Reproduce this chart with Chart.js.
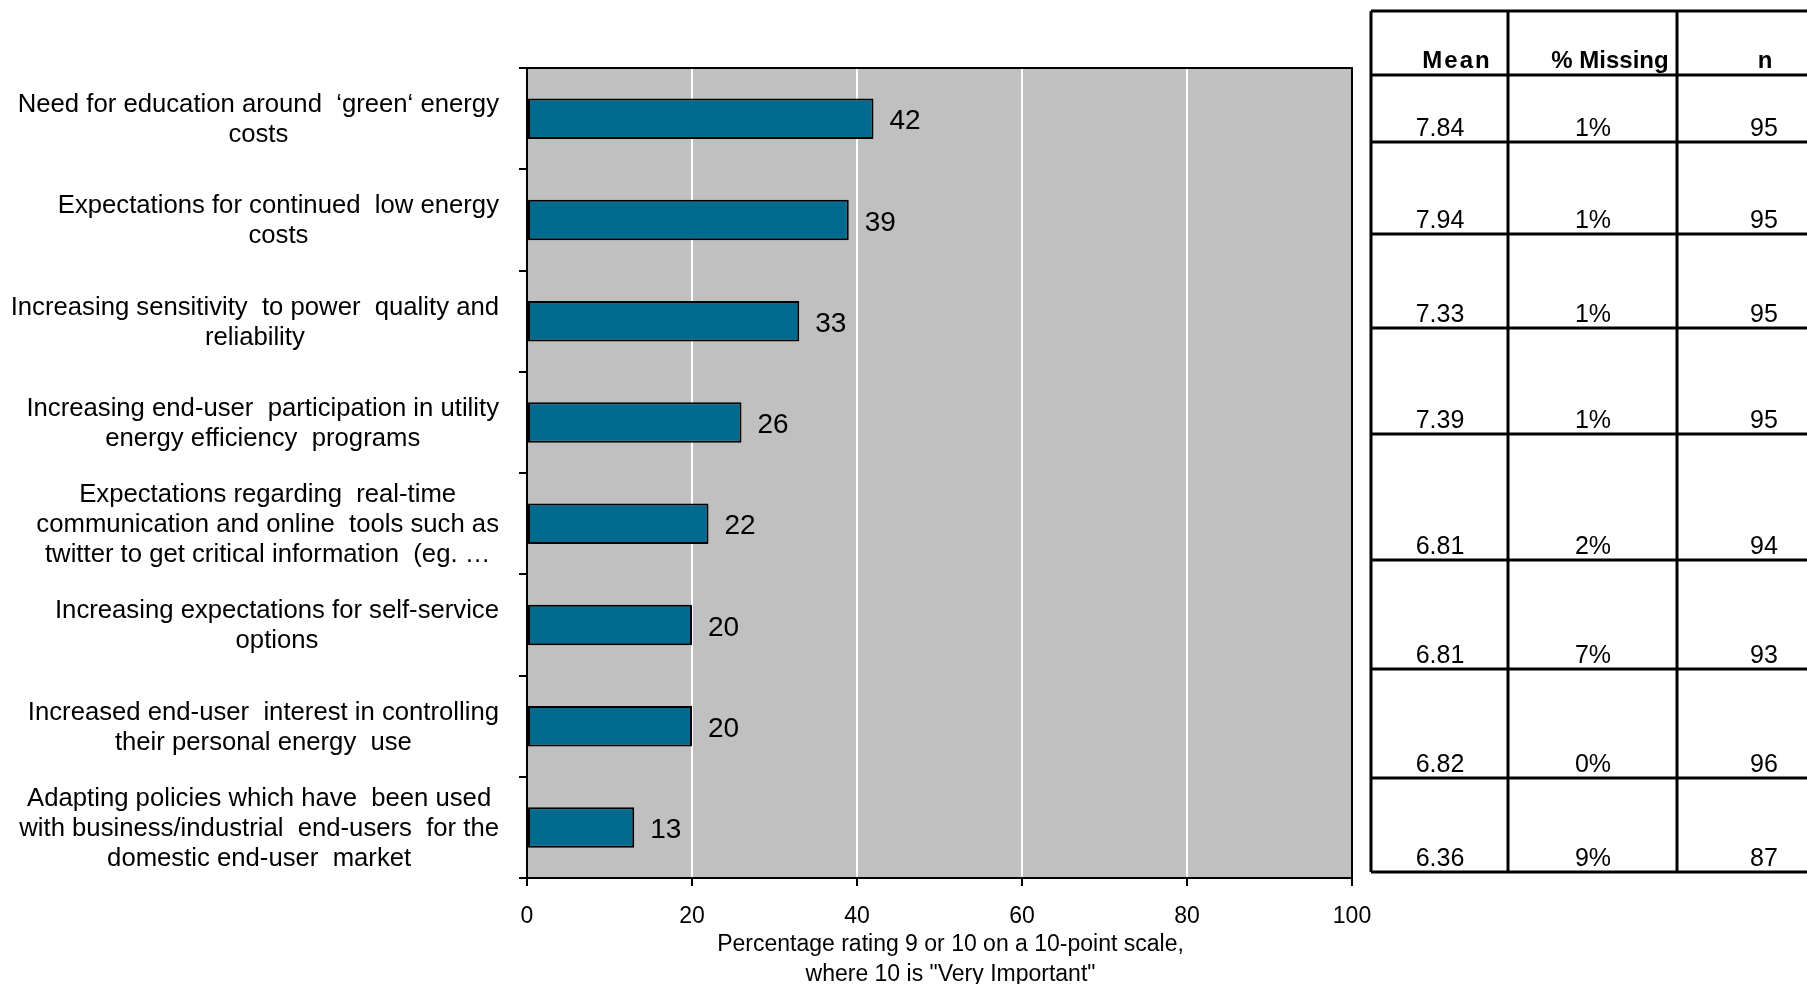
<!DOCTYPE html>
<html>
<head>
<meta charset="utf-8">
<script src="https://cdn.jsdelivr.net/npm/chart.js@4.4.1/dist/chart.umd.min.js"></script>
<style>
html,body{margin:0;padding:0;background:#fff;}
canvas{display:block;}
</style>
</head>
<body>
<canvas id="c" width="1807" height="984"></canvas>
<script>
// ---- data ----
const categories = [
  ["Need for education around  \u2018green\u2018 energy", "costs"],
  ["Expectations for continued  low energy", "costs"],
  ["Increasing sensitivity  to power  quality and", "reliability"],
  ["Increasing end-user  participation in utility", "energy efficiency  programs"],
  ["Expectations regarding  real-time", "communication and online  tools such as", "twitter to get critical information  (eg. \u2026"],
  ["Increasing expectations for self-service", "options"],
  ["Increased end-user  interest in controlling", "their personal energy  use"],
  ["Adapting policies which have  been used", "with business/industrial  end-users  for the", "domestic end-user  market"]
];
const values = [42, 39, 33, 26, 22, 20, 20, 13];
const meanScores = ["7.84", "7.94", "7.33", "7.39", "6.81", "6.81", "6.82", "6.36"];
const pctMissing = ["1%", "1%", "1%", "1%", "2%", "7%", "0%", "9%"];
const nCounts = ["95", "95", "95", "95", "94", "93", "96", "87"];
const xTicks = [0, 20, 40, 60, 80, 100];
const tableHeaders = ["Mean", "% Missing", "n"];
const axisTitle = ["Percentage rating 9 or 10 on a 10-point scale,", "where 10 is \"Very Important\""];

// ---- layout (positions / styles) ----
const FONT = "'Liberation Sans', Arial, sans-serif";
const table = {
  top: 11,
  colLines: [1371, 1508, 1677],
  rowLines: [75, 142, 234, 328, 434, 560, 669, 778, 872],
  headerX: [1457, 1610, 1765],
  headerSpacing: ['2px', '0px', '0px'],
  valueX: [1440, 1593, 1764]
};

const extras = {
  id: 'extras',
  beforeDraw(chart) {
    const {ctx, chartArea: a} = chart;
    ctx.save();
    ctx.fillStyle = '#C0C0C0';
    ctx.fillRect(a.left, a.top, a.right - a.left, a.bottom - a.top);
    ctx.restore();
  },
  afterDatasetsDraw(chart) {
    const {ctx, chartArea: a} = chart;
    const meta = chart.getDatasetMeta(0);
    const yScale = chart.scales.y;
    ctx.save();
    // plot border
    ctx.strokeStyle = '#000';
    ctx.lineWidth = 2;
    ctx.strokeRect(a.left, a.top, a.right - a.left, a.bottom - a.top);

    // value labels
    ctx.fillStyle = '#000';
    ctx.font = '28px ' + FONT;
    ctx.textAlign = 'left';
    ctx.textBaseline = 'middle';
    meta.data.forEach((bar, i) => {
      ctx.fillText(String(values[i]), bar.x + 16, bar.y + 3);
    });

    // category labels (block right-aligned, lines centred)
    ctx.font = '25.7px ' + FONT;
    ctx.textAlign = 'center';
    const rightEdge = a.left - 28;
    categories.forEach((lines, i) => {
      const cy = yScale.getPixelForValue(i) + 1.5;
      const bw = Math.max(...lines.map(l => ctx.measureText(l).width));
      const cx = rightEdge - bw / 2;
      lines.forEach((l, k) => {
        ctx.fillText(l, cx, cy - (lines.length - 1) * 15 + k * 30);
      });
    });

    // axis title
    ctx.font = '23px ' + FONT;
    const tx = (a.left + a.right) / 2 + 11;
    axisTitle.forEach((l, k) => ctx.fillText(l, tx, 945 + k * 30));

    // table
    ctx.lineWidth = 3;
    ctx.beginPath();
    ctx.moveTo(table.colLines[0], table.top);
    ctx.lineTo(1807, table.top);
    table.rowLines.forEach(y => { ctx.moveTo(table.colLines[0], y); ctx.lineTo(1807, y); });
    table.colLines.forEach(x => { ctx.moveTo(x, table.top); ctx.lineTo(x, table.rowLines[table.rowLines.length - 1]); });
    ctx.stroke();

    ctx.textBaseline = 'alphabetic';
    ctx.textAlign = 'center';
    ctx.font = 'bold 24px ' + FONT;
    tableHeaders.forEach((h, j) => {
      ctx.letterSpacing = table.headerSpacing[j];
      ctx.fillText(h, table.headerX[j], table.rowLines[0] - 7);
    });
    ctx.letterSpacing = '0px';
    ctx.font = '25px ' + FONT;
    const cols = [meanScores, pctMissing, nCounts];
    for (let r = 0; r < values.length; r++) {
      const by = table.rowLines[r + 1] - 6;
      cols.forEach((col, j) => ctx.fillText(col[r], table.valueX[j], by));
    }
    ctx.restore();
  }
};

new Chart(document.getElementById('c'), {
  type: 'bar',
  data: {
    labels: categories,
    datasets: [{
      data: values,
      backgroundColor: '#006B8E',
      borderColor: '#000',
      borderWidth: 2,
      borderSkipped: false,
      barPercentage: 0.4,
      categoryPercentage: 1
    }]
  },
  options: {
    indexAxis: 'y',
    responsive: false,
    animation: false,
    events: [],
    layout: { padding: { top: 68, right: 455, left: 0, bottom: 0 } },
    plugins: { legend: { display: false }, tooltip: { enabled: false } },
    scales: {
      x: {
        type: 'linear',
        position: 'bottom',
        min: 0, max: 100,
        afterBuildTicks: s => { s.ticks = xTicks.map(v => ({ value: v })); },
        afterFit: s => { s.height = 106; },
        ticks: { color: '#000', font: { family: FONT, size: 23 }, padding: 17, maxRotation: 0 },
        grid: {
          color: c => (c.tick && (c.tick.value === 0 || c.tick.value === 100)) ? 'rgba(0,0,0,0)' : '#ffffff',
          lineWidth: 2,
          drawTicks: true,
          tickLength: 8,
          tickColor: '#000',
          tickWidth: 2
        },
        border: { color: '#000', width: 2 }
      },
      y: {
        type: 'category',
        position: 'left',
        offset: true,
        afterFit: s => { s.width = 527; },
        ticks: { display: false },
        grid: {
          offset: true,
          drawOnChartArea: false,
          drawTicks: true,
          tickLength: 8,
          color: '#000',
          tickColor: '#000',
          lineWidth: 2,
          tickWidth: 2
        },
        border: { color: '#000', width: 2 }
      }
    }
  },
  plugins: [extras]
});
</script>
</body>
</html>
